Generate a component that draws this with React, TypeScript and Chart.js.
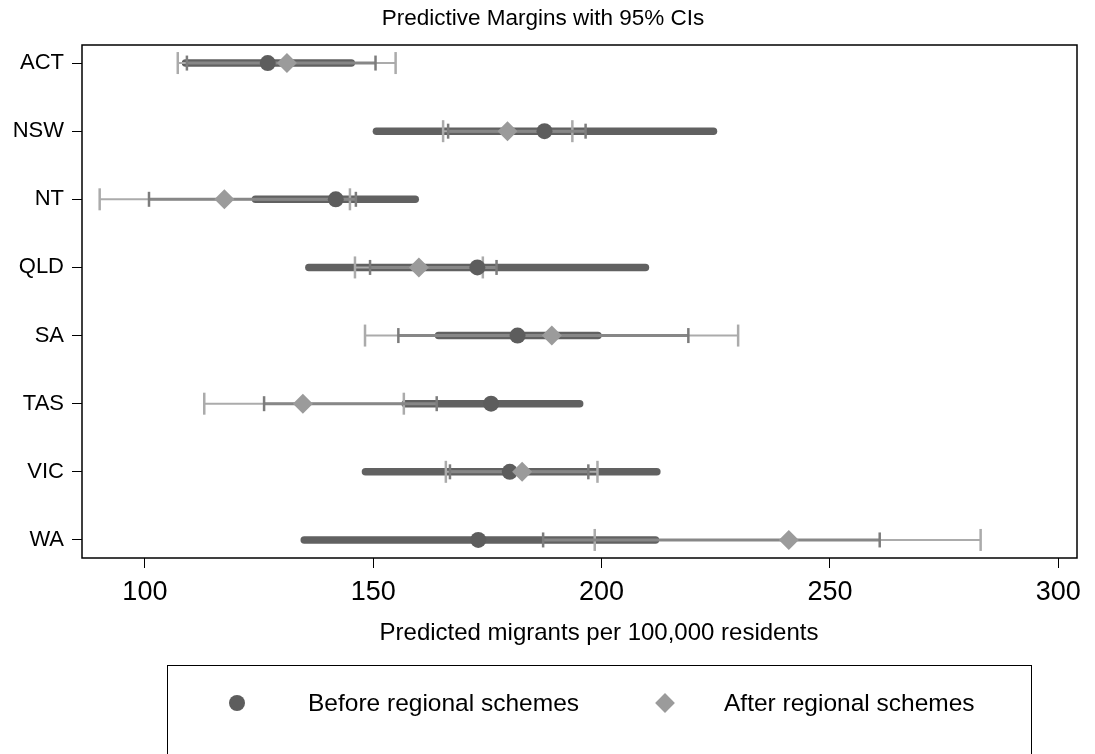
import React, { useEffect, useRef } from 'react';
import { Chart, registerables } from 'chart.js';

Chart.register(...registerables);

const states = ['ACT', 'NSW', 'NT', 'QLD', 'SA', 'TAS', 'VIC', 'WA'];

// Before regional schemes: point estimate and 95% CI (thick bar)
const beforeEst = [126.9, 187.5, 141.8, 172.8, 181.6, 175.8, 179.9, 173.0];
const beforeLo = [108.9, 150.7, 124.2, 135.9, 164.3, 157.0, 148.3, 134.9];
const beforeHi = [145.2, 224.5, 159.2, 209.6, 199.2, 195.2, 212.1, 211.8];

// After regional schemes: point estimate and 95% CI (light capped line)
const afterEst = [131.1, 179.4, 117.4, 160.0, 189.1, 134.6, 182.6, 241.0];
const afterLo = [107.2, 165.3, 90.1, 146.0, 148.2, 113.0, 165.9, 198.5];
const afterHi = [154.9, 193.6, 144.9, 174.0, 229.9, 156.7, 199.1, 283.0];

// Inner capped interval (medium grey)
const innerLo = [109.2, 166.4, 100.9, 149.3, 155.5, 126.1, 166.8, 187.2];
const innerHi = [150.5, 196.5, 146.2, 177.0, 219.0, 163.9, 197.1, 260.9];

const xTicks = [100, 150, 200, 250, 300];

const FONT = '"Liberation Sans", Arial, Helvetica, sans-serif';
const DARK = '#616161';
const DOT = '#5d5d5d';
const DIAMOND = '#9b9b9b';
const LIGHT = '#ababab';
const MED = '#878787';
const MEDCAP = '#7c7c7c';

const boxPlugin = {
  id: 'plotBox',
  afterDraw(chart: any) {
    const { ctx, chartArea: a } = chart;
    ctx.save();
    ctx.strokeStyle = '#000';
    ctx.lineWidth = 1.5;
    ctx.strokeRect(a.left, a.top, a.right - a.left, a.bottom - a.top);
    ctx.restore();
  },
};

export default function App() {
  const ref = useRef<HTMLCanvasElement>(null);

  useEffect(() => {
    if (!ref.current) return;
    const datasets: any[] = [];
    states.forEach((s, i) => {
      datasets.push({
        label: `${s} before CI`,
        data: [{ x: beforeLo[i], y: i }, { x: beforeHi[i], y: i }],
        showLine: true,
        borderColor: DARK,
        borderWidth: 7.5,
        borderCapStyle: 'round',
        pointRadius: 0,
        order: 4,
      });
      datasets.push({
        label: `${s} after CI`,
        data: [{ x: afterLo[i], y: i }, { x: afterHi[i], y: i }],
        showLine: true,
        borderColor: LIGHT,
        borderWidth: 2,
        pointStyle: 'line',
        pointRotation: 90,
        pointRadius: 11,
        pointBorderColor: LIGHT,
        pointBorderWidth: 2.5,
        order: 3,
      });
      datasets.push({
        label: `${s} inner CI`,
        data: [{ x: innerLo[i], y: i }, { x: innerHi[i], y: i }],
        showLine: true,
        borderColor: MED,
        borderWidth: 3,
        pointStyle: 'line',
        pointRotation: 90,
        pointRadius: 7.5,
        pointBorderColor: MEDCAP,
        pointBorderWidth: 2.5,
        order: 2,
      });
    });
    datasets.push({
      label: 'Before regional schemes',
      data: beforeEst.map((x, i) => ({ x, y: i })),
      pointStyle: 'circle',
      pointRadius: 8,
      pointBackgroundColor: DOT,
      pointBorderColor: DOT,
      pointBorderWidth: 0,
      order: 1,
    });
    datasets.push({
      label: 'After regional schemes',
      data: afterEst.map((x, i) => ({ x, y: i })),
      pointStyle: 'rectRot',
      pointRadius: 10,
      pointBackgroundColor: DIAMOND,
      pointBorderColor: DIAMOND,
      pointBorderWidth: 0,
      order: 0,
    });

    const chart = new Chart(ref.current, {
      type: 'scatter',
      data: { datasets },
      options: {
        animation: false,
        responsive: false,
        events: [],
        layout: { padding: { left: 0, right: 18, top: 45, bottom: 86 } },
        plugins: {
          legend: { display: false },
          tooltip: { enabled: false },
          title: { display: false },
        },
        scales: {
          x: {
            type: 'linear',
            min: 86.23,
            max: 304.1,
            afterBuildTicks: (scale: any) => {
              scale.ticks = xTicks.map((v) => ({ value: v }));
            },
            afterFit: (scale: any) => {
              scale.height = 110;
            },
            border: { display: false },
            grid: { drawOnChartArea: false, drawTicks: true, tickLength: 10, color: '#000', lineWidth: 1 },
            ticks: { color: '#000', font: { family: FONT, size: 27 }, padding: 8, maxRotation: 0 },
            title: { display: false },
          },
          y: {
            type: 'linear',
            reverse: true,
            min: -0.265,
            max: 7.265,
            afterBuildTicks: (scale: any) => {
              scale.ticks = states.map((_, i) => ({ value: i }));
            },
            afterFit: (scale: any) => {
              scale.width = 82;
            },
            border: { display: false },
            grid: { drawOnChartArea: false, drawTicks: true, tickLength: 10, color: '#000', lineWidth: 1 },
            ticks: {
              color: '#000',
              font: { family: FONT, size: 22 },
              padding: 8,
              callback: (v: any) => states[v as number] ?? '',
            },
          },
        },
      },
      plugins: [boxPlugin],
    } as any);
    return () => chart.destroy();
  }, []);

  const legendText: React.CSSProperties = {
    position: 'absolute',
    top: 37,
    transform: 'translateY(-50%)',
    fontFamily: FONT,
    fontSize: 24.5,
    color: '#000',
    whiteSpace: 'nowrap',
    lineHeight: 1,
  };

  const centered: React.CSSProperties = {
    position: 'absolute',
    transform: 'translate(-50%, -50%)',
    fontFamily: FONT,
    color: '#000',
    whiteSpace: 'nowrap',
    lineHeight: 1,
  };

  return (
    <div style={{ position: 'absolute', left: 0, top: 0, width: 1095, height: 754, overflow: 'hidden', background: '#fff' }}>
      <canvas ref={ref} width={1095} height={754} style={{ display: 'block' }} />
      <div style={{ ...centered, left: 543, top: 18, fontSize: 22.5 }}>Predictive Margins with 95% CIs</div>
      <div style={{ ...centered, left: 599, top: 632, fontSize: 24 }}>Predicted migrants per 100,000 residents</div>
      <div
        style={{
          position: 'absolute',
          left: 167,
          top: 665,
          width: 865,
          height: 120,
          border: '1.5px solid #000',
          boxSizing: 'border-box',
        }}
      >
        <div style={{ position: 'absolute', left: 69 - 8, top: 37 - 8, width: 16, height: 16, borderRadius: '50%', background: DOT }} />
        <div style={{ ...legendText, left: 140 }}>Before regional schemes</div>
        <div
          style={{
            position: 'absolute',
            left: 497 - 7,
            top: 37 - 7,
            width: 14,
            height: 14,
            background: DIAMOND,
            transform: 'rotate(45deg)',
          }}
        />
        <div style={{ ...legendText, left: 556 }}>After regional schemes</div>
      </div>
    </div>
  );
}
